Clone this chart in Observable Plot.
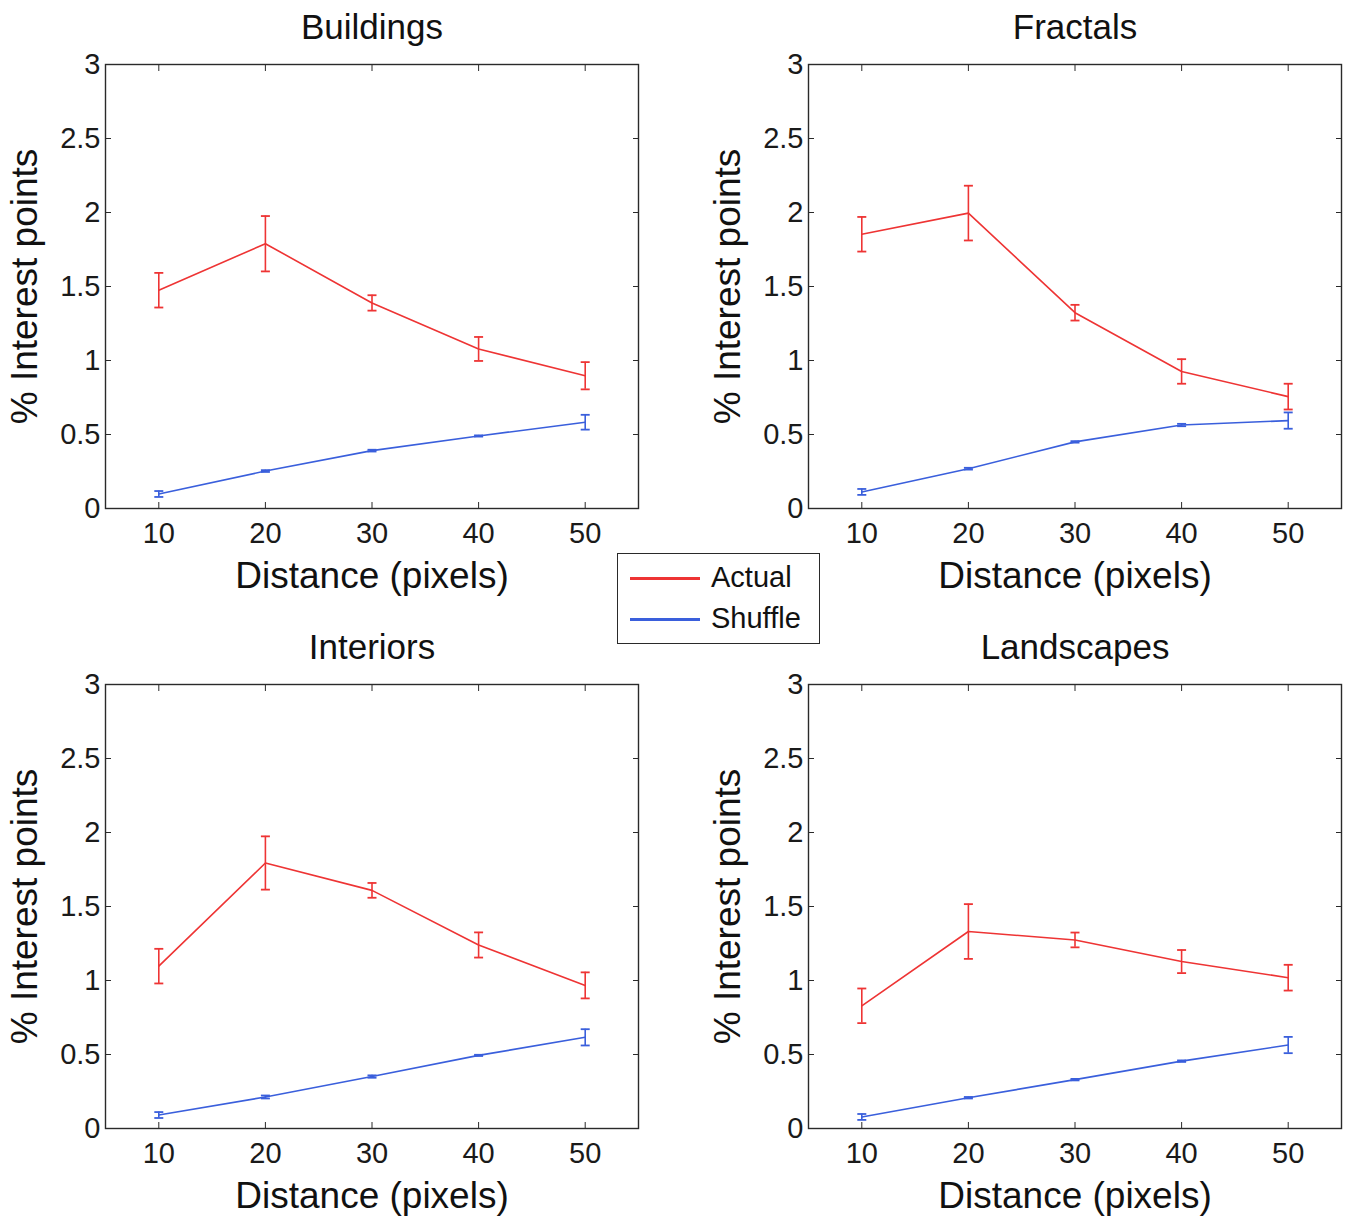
<!DOCTYPE html>
<html>
<head>
<meta charset="utf-8">
<script src="https://cdn.jsdelivr.net/npm/d3@7"></script>
<script src="https://cdn.jsdelivr.net/npm/@observablehq/plot@0.6"></script>
<style>
  html, body { margin: 0; padding: 0; background: #fff; }
  #chart { position: relative; width: 1351px; height: 1224px; overflow: hidden; background: #fff;
           font-family: "Liberation Sans", Arial, Helvetica, sans-serif; color: #1a1a1a; }
  .panel { position: absolute; }
  #legend { position: absolute; left: 617px; top: 553px; width: 203px; height: 91px; box-sizing: border-box;
            border: 1.5px solid #2a2a2a; background: #fff; }
  .lg-row { position: absolute; left: 0; width: 100%; height: 0; }
  .lg-line { position: absolute; left: 12px; width: 70px; top: -1.5px; height: 0; border-top: 3px solid; }
  .lg-text { position: absolute; left: 93px; top: -18px; font-size: 29px; line-height: 34px; color: #111; }
</style>
</head>
<body>
<div id="chart"></div>
<script>
// ---- data ----
const distances = [10, 20, 30, 40, 50];
const panelTitles = ["Buildings", "Fractals", "Interiors", "Landscapes"];
const seriesNames = ["Actual", "Shuffle"];
const seriesColors = ["#ee3434", "#3a5fdc"];
const xTicks = [10, 20, 30, 40, 50];
const yTicks = [0, 0.5, 1, 1.5, 2, 2.5, 3];
const xLabel = "Distance (pixels)";
const yLabel = "% Interest points";

const buildingsActual     = [1.475, 1.789, 1.389, 1.078, 0.897];
const buildingsActualErr  = [0.117, 0.187, 0.052, 0.081, 0.092];
const buildingsShuffle    = [0.098, 0.253, 0.391, 0.490, 0.583];
const buildingsShuffleErr = [0.020, 0.006, 0.006, 0.004, 0.050];

const fractalsActual      = [1.853, 1.996, 1.323, 0.926, 0.756];
const fractalsActualErr   = [0.117, 0.185, 0.053, 0.083, 0.087];
const fractalsShuffle     = [0.112, 0.269, 0.450, 0.564, 0.594];
const fractalsShuffleErr  = [0.020, 0.006, 0.005, 0.008, 0.055];

const interiorsActual     = [1.097, 1.794, 1.609, 1.240, 0.967];
const interiorsActualErr  = [0.117, 0.180, 0.050, 0.085, 0.088];
const interiorsShuffle    = [0.091, 0.213, 0.351, 0.494, 0.616];
const interiorsShuffleErr = [0.020, 0.010, 0.008, 0.004, 0.055];

const landscapesActual     = [0.829, 1.331, 1.274, 1.128, 1.019];
const landscapesActualErr  = [0.117, 0.185, 0.050, 0.078, 0.087];
const landscapesShuffle    = [0.078, 0.208, 0.330, 0.455, 0.564];
const landscapesShuffleErr = [0.020, 0.005, 0.005, 0.005, 0.055];

// ---- build ----
const capSymbol = {
  draw(context, size) {
    const r = Math.sqrt(size / Math.PI);
    context.moveTo(-r, 0);
    context.lineTo(r, 0);
  }
};

function rowsFor(act, actErr, shuf, shufErr) {
  const rows = [];
  distances.forEach((d, i) => {
    rows.push({series: seriesNames[0], x: d, y: act[i], lo: act[i] - actErr[i], hi: act[i] + actErr[i]});
  });
  distances.forEach((d, i) => {
    rows.push({series: seriesNames[1], x: d, y: shuf[i], lo: shuf[i] - shufErr[i], hi: shuf[i] + shufErr[i]});
  });
  return rows;
}

function panel(title, rows) {
  return Plot.plot({
    width: 648, height: 600,
    marginLeft: 105, marginRight: 10, marginTop: 64, marginBottom: 92,
    style: {fontFamily: '"Liberation Sans", Arial, Helvetica, sans-serif', fontSize: "29px", color: "#1a1a1a", background: "transparent", overflow: "visible"},
    x: {domain: [5, 55]},
    y: {domain: [0, 3]},
    color: {type: "ordinal", domain: seriesNames, range: seriesColors},
    marks: [
      Plot.line(rows, {x: "x", y: "y", z: "series", stroke: "series", strokeWidth: 1.6}),
      Plot.ruleX(rows, {x: "x", y1: "lo", y2: "hi", stroke: "series", strokeWidth: 1.6}),
      Plot.dot(rows, {x: "x", y: "lo", symbol: capSymbol, r: 4.5, fill: "none", stroke: "series", strokeWidth: 1.8}),
      Plot.dot(rows, {x: "x", y: "hi", symbol: capSymbol, r: 4.5, fill: "none", stroke: "series", strokeWidth: 1.8}),
      Plot.frame({stroke: "#2a2a2a", strokeWidth: 1.4}),
      Plot.axisX({anchor: "bottom", ticks: xTicks, tickSize: -6, tickPadding: 20, tickFormat: d => String(d), label: null, stroke: "#2a2a2a"}),
      Plot.axisX({anchor: "top", ticks: xTicks, tickSize: -6, tickFormat: () => "", label: null, stroke: "#2a2a2a"}),
      Plot.axisY({anchor: "left", ticks: yTicks, tickSize: -6, tickPadding: 11, tickFormat: d => String(d), label: null, stroke: "#2a2a2a"}),
      Plot.axisY({anchor: "right", ticks: yTicks, tickSize: -6, tickFormat: () => "", label: null, stroke: "#2a2a2a"}),
      Plot.text([title], {text: d => d, frameAnchor: "top", dy: -37, fontSize: 35, lineAnchor: "middle", fill: "#111"}),
      Plot.text([xLabel], {text: d => d, frameAnchor: "bottom", dy: 68, fontSize: 37, lineAnchor: "middle", fill: "#111"}),
      Plot.text([yLabel], {text: d => d, frameAnchor: "left", textAnchor: "middle", dx: -80, rotate: -90, fontSize: 37, lineAnchor: "middle", fill: "#111"})
    ]
  });
}

const chart = document.getElementById("chart");
const panelData = [
  rowsFor(buildingsActual, buildingsActualErr, buildingsShuffle, buildingsShuffleErr),
  rowsFor(fractalsActual, fractalsActualErr, fractalsShuffle, fractalsShuffleErr),
  rowsFor(interiorsActual, interiorsActualErr, interiorsShuffle, interiorsShuffleErr),
  rowsFor(landscapesActual, landscapesActualErr, landscapesShuffle, landscapesShuffleErr)
];
const offsets = [[0, 0], [703, 0], [0, 620], [703, 620]];
panelTitles.forEach((t, i) => {
  const div = document.createElement("div");
  div.className = "panel";
  div.style.left = offsets[i][0] + "px";
  div.style.top = offsets[i][1] + "px";
  div.appendChild(panel(t, panelData[i]));
  chart.appendChild(div);
});

// legend
const legend = document.createElement("div");
legend.id = "legend";
const rowTops = [24, 65];
seriesNames.forEach((name, i) => {
  const row = document.createElement("div");
  row.className = "lg-row";
  row.style.top = rowTops[i] + "px";
  const line = document.createElement("div");
  line.className = "lg-line";
  line.style.borderTopColor = seriesColors[i];
  const txt = document.createElement("div");
  txt.className = "lg-text";
  txt.textContent = name;
  row.appendChild(line);
  row.appendChild(txt);
  legend.appendChild(row);
});
chart.appendChild(legend);
</script>
</body>
</html>
